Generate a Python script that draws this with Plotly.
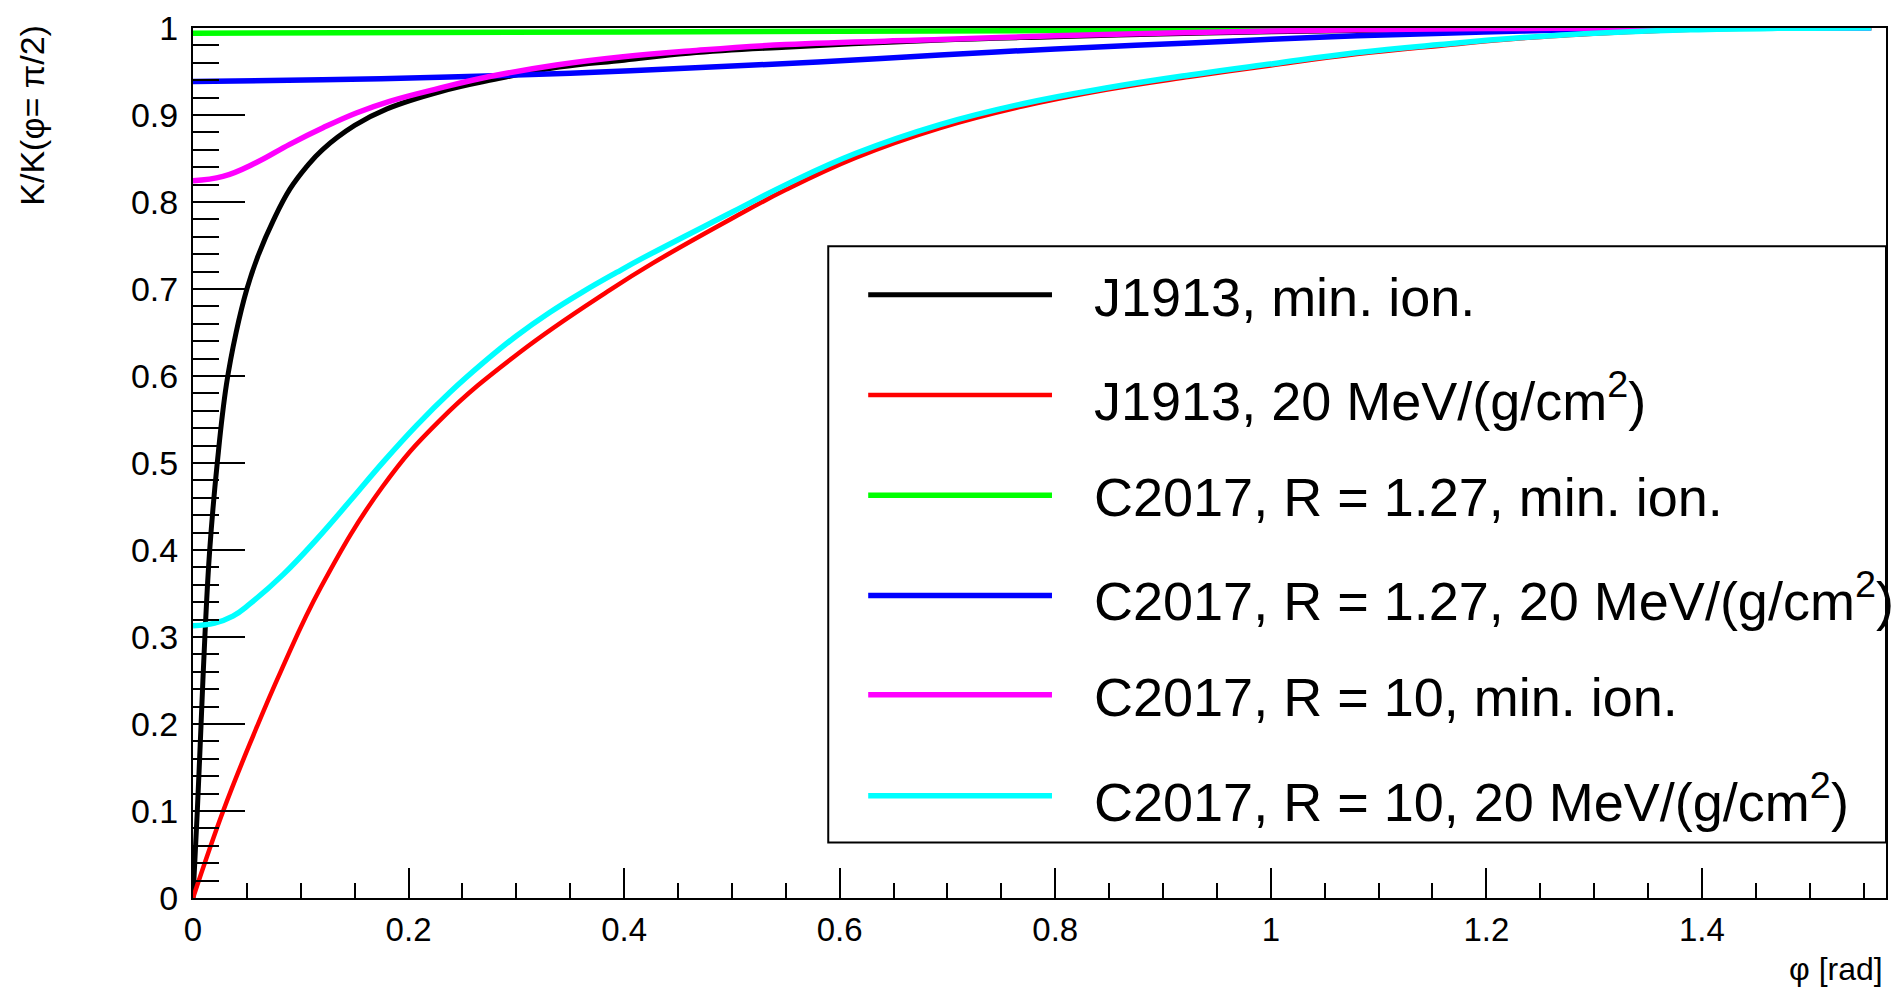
import plotly.graph_objects as go
import math

# ---------------- data ----------------
phi_black = [0, 0.004, 0.0075, 0.011, 0.0155, 0.0225, 0.031, 0.04, 0.05, 0.06, 0.075, 0.09, 0.105,
             0.12, 0.15, 0.18, 0.23, 0.28, 0.34, 0.40, 0.46, 0.55, 0.69, 0.80, 0.93, 1.08, 1.23, 1.39, 1.557]
k_black = [0, 0.10, 0.20, 0.30, 0.40, 0.50, 0.59, 0.65, 0.70, 0.737, 0.78, 0.815, 0.84,
           0.86, 0.888, 0.907, 0.927, 0.941, 0.955, 0.963, 0.971, 0.978, 0.986, 0.990, 0.994, 0.997, 0.999, 1.0, 1.0]

phi_red = [0, 0.028, 0.056, 0.082, 0.119, 0.176, 0.229, 0.303, 0.387, 0.427, 0.5, 0.55, 0.615,
           0.693, 0.77, 0.847, 0.925, 1.0, 1.08, 1.16, 1.23, 1.31, 1.39, 1.47, 1.557]
k_red = [0, 0.10, 0.187, 0.262, 0.358, 0.473, 0.549, 0.627, 0.699, 0.73, 0.781, 0.814, 0.851,
         0.885, 0.91, 0.929, 0.944, 0.957, 0.97, 0.98, 0.988, 0.994, 0.998, 0.9995, 1.0]

phi_green = [0, 0.4, 0.8, 1.2, 1.557]
k_green = [0.994, 0.9955, 0.997, 0.999, 1.0]

phi_blue = [0, 0.12, 0.229, 0.35, 0.461, 0.58, 0.693, 0.80, 0.925, 1.0, 1.08, 1.16, 1.234, 1.31,
            1.389, 1.47, 1.557]
k_blue = [0.9385, 0.9404, 0.9434, 0.948, 0.954, 0.961, 0.9689, 0.976, 0.9829, 0.987, 0.991, 0.994,
          0.9966, 0.9985, 0.9995, 1.0, 1.0]

phi_magenta = [0, 0.0278, 0.0588, 0.0897, 0.1206, 0.1515, 0.1824, 0.2288, 0.2752, 0.3371, 0.399,
               0.4608, 0.55, 0.693, 0.80, 0.925, 1.0, 1.08, 1.2, 1.35, 1.557]
k_magenta = [0.8245, 0.8294, 0.8454, 0.8663, 0.8853, 0.9023, 0.9157, 0.9308, 0.9442, 0.9575, 0.967,
             0.9736, 0.981, 0.9867, 0.991, 0.9948, 0.9965, 0.998, 0.9993, 1.0, 1.0]

phi_cyan = [0, 0.02, 0.037, 0.0527, 0.0838, 0.1145, 0.1454, 0.1764, 0.2073, 0.2382, 0.2691, 0.30,
            0.3309, 0.362, 0.393, 0.418, 0.5013, 0.5535, 0.615, 0.693, 0.770, 0.847, 0.925, 1.002,
            1.079, 1.157, 1.234, 1.311, 1.389, 1.47, 1.557]
k_cyan = [0.313, 0.316, 0.324, 0.338, 0.372, 0.412, 0.456, 0.501, 0.543, 0.581, 0.615, 0.646,
          0.673, 0.697, 0.719, 0.736, 0.789, 0.822, 0.856, 0.889, 0.913, 0.931, 0.946, 0.959,
          0.9715, 0.981, 0.989, 0.9945, 0.998, 0.9996, 1.0]

series_names = [
    "J1913, min. ion.",
    "J1913, 20 MeV/(g/cm<sup>2</sup>)",
    "C2017, R = 1.27, min. ion.",
    "C2017, R = 1.27, 20 MeV/(g/cm<sup>2</sup>)",
    "C2017, R = 10, min. ion.",
    "C2017, R = 10, 20 MeV/(g/cm<sup>2</sup>)",
]
series_colors = ["#000000", "#ff0000", "#00ff00", "#0000ff", "#ff00ff", "#00ffff"]

x_tickvals = [0, 0.2, 0.4, 0.6, 0.8, 1.0, 1.2, 1.4]
x_ticktext = ["0", "0.2", "0.4", "0.6", "0.8", "1", "1.2", "1.4"]
y_tickvals = [0, 0.1, 0.2, 0.3, 0.4, 0.5, 0.6, 0.7, 0.8, 0.9, 1.0]
y_ticktext = ["0", "0.1", "0.2", "0.3", "0.4", "0.5", "0.6", "0.7", "0.8", "0.9", "1"]

x_title = "φ [rad]"
y_title = "K/K(φ= π/2)"

# ---------------- layout geometry (pixels) ----------------
W, H = 1897, 994
L, R, T, B = 193, 1888, 21, 898
FONT = "Liberation Sans, Arial, Helvetica, sans-serif"


def px(x):
    return (x - L) / (R - L)


def py(y):
    return (B - y) / (B - T)


fig = go.Figure()
xs = [phi_black, phi_red, phi_green, phi_blue, phi_magenta, phi_cyan]
ys = [k_black, k_red, k_green, k_blue, k_magenta, k_cyan]
widths = [5, 4.5, 5.5, 5.5, 5.5, 5.5]
for xv, yv, name, col, w in zip(xs, ys, series_names, series_colors, widths):
    fig.add_trace(go.Scatter(x=xv, y=yv, mode="lines", name=name,
                             line=dict(color=col, width=w, shape="spline", smoothing=1.2),
                             showlegend=False))

shapes = []
annotations = []

# legend box
shapes.append(dict(type="rect", xref="paper", yref="paper",
                   x0=px(829), x1=px(1888), y0=py(842), y1=py(241),
                   line=dict(color="black", width=2), fillcolor="white", layer="above"))
rows = [290, 391, 492, 593, 693, 795]
for r, name, col, w in zip(rows, series_names, series_colors, widths):
    shapes.append(dict(type="line", xref="paper", yref="paper",
                       x0=px(869), x1=px(1053), y0=py(r), y1=py(r),
                       line=dict(color=col, width=w), layer="above"))
    annotations.append(dict(xref="paper", yref="paper", x=px(1093), y=py(r + 2),
                            xanchor="left", yanchor="middle", text=name, showarrow=False,
                            font=dict(family=FONT, size=54, color="black")))

# axis titles
annotations.append(dict(xref="paper", yref="paper", x=px(31), y=py(16), xanchor="center",
                        yanchor="top", text=y_title, textangle=-90, showarrow=False,
                        font=dict(family=FONT, size=34, color="black")))
annotations.append(dict(xref="paper", yref="paper", x=px(1887), y=py(970), xanchor="right",
                        yanchor="middle", text=x_title, showarrow=False,
                        font=dict(family=FONT, size=32, color="black")))

fig.update_layout(
    width=W, height=H,
    margin=dict(l=L, r=W - R, t=T, b=H - B),
    paper_bgcolor="white", plot_bgcolor="white",
    shapes=shapes, annotations=annotations,
    showlegend=False,
    font=dict(family=FONT, color="black"),
)
fig.update_xaxes(range=[0, math.pi / 2], showline=True, mirror=True, linecolor="black", linewidth=2,
                 showgrid=False, zeroline=False, ticks="inside", ticklen=30, tickwidth=2,
                 tickcolor="black", tickmode="array", tickvals=x_tickvals, ticktext=x_ticktext,
                 tickfont=dict(family=FONT, size=33, color="black"), ticklabelstandoff=1,
                 minor=dict(ticks="inside", ticklen=15, tickwidth=2, tickcolor="black",
                            dtick=0.05, tick0=0, showgrid=False))
fig.update_yaxes(range=[0, 1], showline=True, mirror=True, linecolor="black", linewidth=2,
                 showgrid=False, zeroline=False, ticks="inside", ticklen=52, tickwidth=2,
                 tickcolor="black", tickmode="array", tickvals=y_tickvals, ticktext=y_ticktext,
                 tickfont=dict(family=FONT, size=34, color="black"), ticklabelstandoff=6,
                 minor=dict(ticks="inside", ticklen=26, tickwidth=2, tickcolor="black",
                            dtick=0.02, tick0=0, showgrid=False))

fig.write_html("out.html")
